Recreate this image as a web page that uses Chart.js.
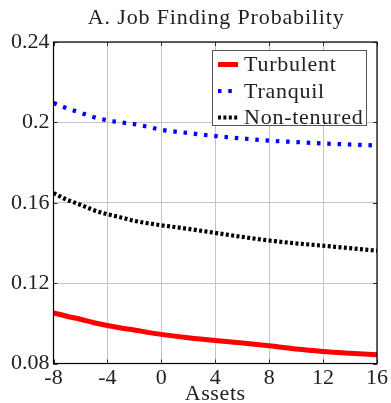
<!DOCTYPE html>
<html>
<head>
<meta charset="utf-8">
<script src="https://cdn.jsdelivr.net/npm/chart.js@4/dist/chart.umd.min.js"></script>
<style>
  html, body { margin: 0; padding: 0; background: #fff; }
  #wrap { width: 391px; height: 403px; position: relative; }
</style>
</head>
<body>
<div id="wrap"><canvas id="c" width="391" height="403"></canvas></div>
<script>
// Asset grid and job finding probabilities by worker group
const assets = [-8, -7, -6, -5, -4, -3, -2, -1, 0, 2, 4, 6, 8, 10, 12, 14, 16];
const turbulent = [0.1052, 0.1035, 0.1020, 0.1003, 0.0989, 0.0977, 0.0967, 0.0955, 0.0945, 0.0928, 0.0914, 0.0902, 0.0888, 0.0872, 0.0860, 0.0851, 0.0843];
const tranquil = [0.2097, 0.2070, 0.2048, 0.2026, 0.2010, 0.2000, 0.1991, 0.1978, 0.1963, 0.1947, 0.1932, 0.1920, 0.1909, 0.1902, 0.1895, 0.1890, 0.1885];
const nonTenured = [0.1648, 0.1615, 0.1590, 0.1563, 0.1543, 0.1527, 0.1510, 0.1498, 0.1488, 0.1470, 0.1450, 0.1430, 0.1412, 0.1398, 0.1386, 0.1374, 0.1361];
const xTicks = [-8, -4, 0, 4, 8, 12, 16];
const yTicks = [0.08, 0.12, 0.16, 0.2, 0.24];
const yTickLabels = ['0.08', '0.12', '0.16', '0.2', '0.24'];

const FONT = '"Liberation Serif", "Times New Roman", serif';
const pts = (ys) => assets.map((x, i) => ({ x: x, y: ys[i] }));

const series = [
  { label: 'Turbulent', data: pts(turbulent), borderColor: '#ff0000', borderWidth: 5, borderDash: [] },
  { label: 'Tranquil', data: pts(tranquil), borderColor: '#0000ff', borderWidth: 4.2, borderDash: [3.5, 6.8] },
  { label: 'Non-tenured', data: pts(nonTenured), borderColor: '#000000', borderWidth: 4.2, borderDash: [3, 2.4] }
];

// Frame, inner tick marks, title, axis label and legend box
const decorations = {
  id: 'decorations',
  afterDatasetsDraw(chart) {
    const { ctx, chartArea: a, scales } = chart;
    ctx.save();
    // inner tick marks
    ctx.strokeStyle = '#333';
    ctx.lineWidth = 1;
    ctx.beginPath();
    xTicks.forEach(v => {
      const px = Math.round(scales.x.getPixelForValue(v)) + 0.5;
      ctx.moveTo(px, a.bottom); ctx.lineTo(px, a.bottom - 4);
      ctx.moveTo(px, a.top); ctx.lineTo(px, a.top + 4);
    });
    yTicks.forEach(v => {
      const py = Math.round(scales.y.getPixelForValue(v)) + 0.5;
      ctx.moveTo(a.left, py); ctx.lineTo(a.left + 4, py);
      ctx.moveTo(a.right, py); ctx.lineTo(a.right - 4, py);
    });
    ctx.stroke();
    // frame
    ctx.strokeStyle = '#000';
    ctx.lineWidth = 1.2;
    ctx.strokeRect(a.left, a.top, a.right - a.left, a.bottom - a.top);

    // title and axis label
    ctx.fillStyle = '#222';
    ctx.textAlign = 'center';
    ctx.textBaseline = 'middle';
    ctx.font = '22px ' + FONT;
    ctx.letterSpacing = '0.85px';
    ctx.fillText('A. Job Finding Probability', (a.left + a.right) / 2 + 1, 18);
    ctx.letterSpacing = '0.6px';
    ctx.fillText('Assets', (a.left + a.right) / 2, 394);

    // legend
    ctx.letterSpacing = '0px';
    const bx = 212.5, by = 50.5, bw = 154, bh = 75;
    ctx.fillStyle = '#fff';
    ctx.fillRect(bx, by, bw, bh);
    ctx.strokeStyle = '#555';
    ctx.lineWidth = 1;
    ctx.strokeRect(bx, by, bw, bh);
    const rowY = [64.5, 91, 117.5];
    chart.data.datasets.forEach((ds, i) => {
      const y = rowY[i];
      ctx.strokeStyle = ds.borderColor;
      ctx.lineWidth = ds.borderWidth;
      ctx.setLineDash(ds.borderDash || []);
      ctx.lineCap = 'butt';
      ctx.beginPath();
      ctx.moveTo(218, y); ctx.lineTo(238, y);
      ctx.stroke();
      ctx.setLineDash([]);
      ctx.fillStyle = '#222';
      ctx.textAlign = 'left';
      ctx.font = '22px ' + FONT;
      ctx.letterSpacing = '0.75px';
      ctx.fillText(ds.label, 244, y + 1);
      ctx.letterSpacing = '0px';
    });
    ctx.restore();
  }
};

new Chart(document.getElementById('c'), {
  type: 'line',
  data: {
    datasets: series.map(s => ({
      label: s.label,
      data: s.data,
      borderColor: s.borderColor,
      borderWidth: s.borderWidth,
      borderDash: s.borderDash,
      borderCapStyle: 'butt',
      pointRadius: 0,
      fill: false,
      cubicInterpolationMode: 'monotone'
    }))
  },
  options: {
    responsive: false,
    animation: false,
    devicePixelRatio: 1,
    layout: { padding: { top: 42, right: 14, left: 0, bottom: 0 } },
    plugins: { legend: { display: false }, title: { display: false }, tooltip: { enabled: false } },
    scales: {
      x: {
        type: 'linear',
        min: -8, max: 16,
        afterBuildTicks: (s) => { s.ticks = xTicks.map(v => ({ value: v })); },
        afterFit: (s) => { s.height = 39.5; },
        grid: { color: '#c4c4c4', lineWidth: 1, drawTicks: false },
        border: { display: false },
        ticks: {
          color: '#222', padding: 2,
          font: { family: FONT, size: 22 },
          callback: (v) => String(v)
        }
      },
      y: {
        type: 'linear',
        min: 0.08, max: 0.24,
        afterBuildTicks: (s) => { s.ticks = yTicks.map(v => ({ value: v })); },
        afterFit: (s) => { s.width = 53.5; },
        grid: { color: '#c4c4c4', lineWidth: 1, drawTicks: false },
        border: { display: false },
        ticks: {
          color: '#222', padding: 4,
          font: { family: FONT, size: 22 },
          callback: (v) => { const i = yTicks.findIndex(t => Math.abs(t - v) < 1e-9); return i >= 0 ? yTickLabels[i] : ''; }
        }
      }
    }
  },
  plugins: [decorations]
});
</script>
</body>
</html>
